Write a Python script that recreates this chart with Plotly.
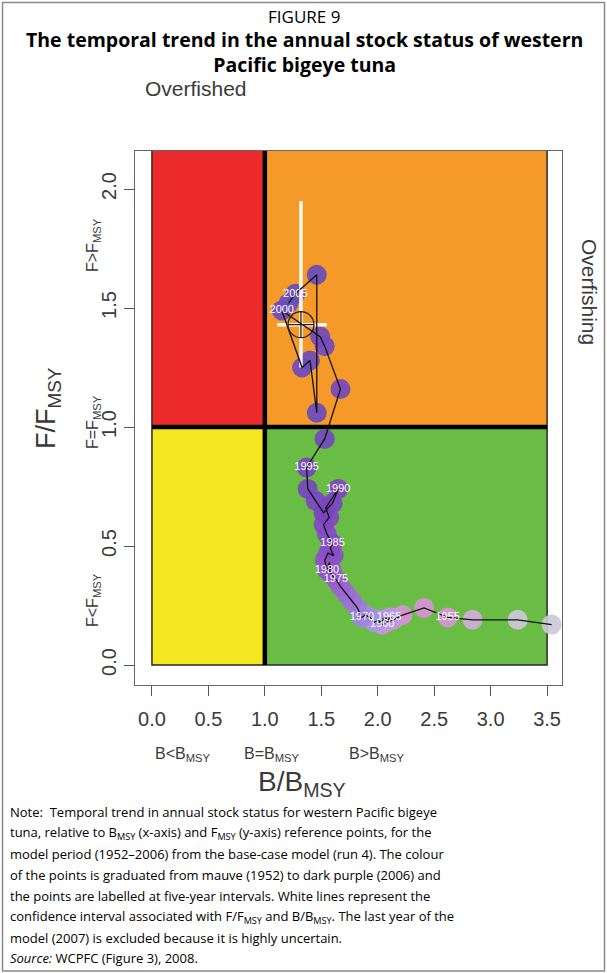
import plotly.graph_objects as go

W, H = 607, 973

# ---------------- data ----------------
years = list(range(1952, 2007))
b_bmsy = [3.54, 3.24, 2.84, 2.62, 2.41, 2.22, 2.14, 2.08, 2.04, 2.01,
          2.06, 2.12, 2.09, 2.10, 2.02, 1.97, 1.93, 1.89, 1.86, 1.82,
          1.77, 1.72, 1.67, 1.63, 1.59, 1.56, 1.59, 1.57, 1.55, 1.53,
          1.56, 1.61, 1.58, 1.60, 1.55, 1.52, 1.57, 1.54, 1.65, 1.60,
          1.52, 1.45, 1.38, 1.37, 1.53, 1.67, 1.53, 1.49, 1.15, 1.33,
          1.40, 1.46, 1.46, 1.27, 1.21]
f_fmsy = [0.17, 0.19, 0.19, 0.20, 0.24, 0.21, 0.19, 0.18, 0.17, 0.18,
          0.19, 0.20, 0.19, 0.20, 0.19, 0.18, 0.20, 0.21, 0.20, 0.24,
          0.27, 0.30, 0.33, 0.36, 0.38, 0.41, 0.40, 0.43, 0.40, 0.44,
          0.47, 0.46, 0.49, 0.51, 0.55, 0.59, 0.62, 0.66, 0.74, 0.68,
          0.64, 0.69, 0.74, 0.83, 0.95, 1.16, 1.34, 1.38, 1.49, 1.25,
          1.28, 1.06, 1.64, 1.56, 1.52]
label_years = [1955, 1960, 1965, 1970, 1975, 1980, 1985, 1990, 1995, 2000, 2005]

ci_center = (1.32, 1.43)
ci_b = (1.11, 1.55)
ci_f = (1.25, 1.95)

x_ticks = [0.0, 0.5, 1.0, 1.5, 2.0, 2.5, 3.0, 3.5]
y_ticks = [0.0, 0.5, 1.0, 1.5, 2.0]

# ---------------- helpers ----------------
def px(x):
    return x / W

def py(y):
    return 1 - y / H

RFONT = "Liberation Sans, Arial, sans-serif"
PFONT = "Open Sans, Noto Sans, sans-serif"
GREY = "#3a3a3a"

fig = go.Figure()

# points
fig.add_trace(go.Scatter(
    x=b_bmsy, y=f_fmsy, mode="markers",
    marker=dict(size=20, color=years, opacity=0.92,
                colorscale=[[0.0, "#cdc8d8"], [0.025, "#d0c4dc"], [0.05, "#d894d6"],
                            [0.1, "#d690d6"], [0.2, "#c49ae0"], [0.3, "#a294e6"],
                            [0.42, "#9a5ed0"], [0.7, "#7f44c2"], [1.0, "#634ebc"]],
                line=dict(width=0)),
    hoverinfo="skip", showlegend=False))

# CI lines (white)
fig.add_trace(go.Scatter(x=[ci_center[0], ci_center[0]], y=list(ci_f), mode="lines",
                         line=dict(color="white", width=3.5), opacity=0.92,
                         hoverinfo="skip", showlegend=False))
fig.add_trace(go.Scatter(x=list(ci_b), y=[ci_center[1], ci_center[1]], mode="lines",
                         line=dict(color="white", width=3.5), opacity=0.92,
                         hoverinfo="skip", showlegend=False))

# trajectory line
fig.add_trace(go.Scatter(x=b_bmsy, y=f_fmsy, mode="lines",
                         line=dict(color="#111111", width=1.3),
                         hoverinfo="skip", showlegend=False))

# year labels
lx = [b_bmsy[years.index(yv)] for yv in label_years]
ly = [f_fmsy[years.index(yv)] for yv in label_years]
fig.add_trace(go.Scatter(x=lx, y=ly, mode="text", text=[str(v) for v in label_years],
                         textfont=dict(color="white", size=11, family=RFONT),
                         hoverinfo="skip", showlegend=False))

# crosshair
fig.add_trace(go.Scatter(x=[ci_center[0]], y=[ci_center[1]], mode="markers",
                         marker=dict(symbol="circle-cross-open", size=26,
                                     color="#222222", line=dict(width=1.3, color="#222222")),
                         hoverinfo="skip", showlegend=False))

# quadrants
quads = [
    (0, 1, 1, 2.2, "#ee2b2b"),
    (1, 3.5, 1, 2.2, "#f59a29"),
    (0, 1, 0, 1, "#f4e61f"),
    (1, 3.5, 0, 1, "#69bd45"),
]
shapes = []
for x0, x1, y0, y1, c in quads:
    shapes.append(dict(type="rect", xref="x", yref="y", x0=x0, x1=x1, y0=y0, y1=y1,
                       fillcolor=c, line=dict(width=0), layer="below"))
shapes.append(dict(type="rect", xref="x", yref="y", x0=0, x1=3.5, y0=0, y1=2.2,
                   line=dict(color="#2a2a2a", width=1.5), layer="below"))
shapes.append(dict(type="line", xref="x", yref="y", x0=1, x1=1, y0=0, y1=2.2,
                   line=dict(color="black", width=4.5), layer="below"))
shapes.append(dict(type="line", xref="x", yref="y", x0=0, x1=3.5, y0=1, y1=1,
                   line=dict(color="black", width=4.5), layer="below"))
# outer figure border
shapes.append(dict(type="rect", xref="paper", yref="paper", x0=px(2.5), x1=px(604.5),
                   y0=py(971), y1=py(2.5), line=dict(color="#8a8a8a", width=1.5)))

ann = []

def add(text, x, y, size, family=PFONT, color="black", angle=0, xanchor="center", yanchor="middle"):
    ann.append(dict(text=text, x=px(x), y=py(y), xref="paper", yref="paper", showarrow=False,
                    font=dict(size=size, family=family, color=color), textangle=angle,
                    xanchor=xanchor, yanchor=yanchor))

add("FIGURE 9", 304, 16, 17)
add("<b>The temporal trend in the annual stock status of western</b><br>"
    "<b>Pacific bigeye tuna</b>", 304, 52, 19.5)

add("Overfished", 196, 88, 21, family=RFONT, color=GREY)
add("Overfishing", 590, 292, 21, family=RFONT, color=GREY, angle=90)

add("F/F<sub>MSY</sub>", 48, 408, 27, family=RFONT, color=GREY, angle=-90)
add("F>F<sub>MSY</sub>", 93, 245, 16, family=RFONT, color=GREY, angle=-90)
add("F=F<sub>MSY</sub>", 93, 422, 16, family=RFONT, color=GREY, angle=-90)
add("F<F<sub>MSY</sub>", 93, 600, 16, family=RFONT, color=GREY, angle=-90)

add("B<B<sub>MSY</sub>", 182, 754, 16, family=RFONT, color=GREY)
add("B=B<sub>MSY</sub>", 271, 754, 16, family=RFONT, color=GREY)
add("B>B<sub>MSY</sub>", 376, 754, 16, family=RFONT, color=GREY)
add("B/B<sub>MSY</sub>", 302, 783, 28, family=RFONT, color=GREY)

note_lines = [
    "Note:  Temporal trend in annual stock status for western Pacific bigeye",
    "tuna, relative to B<sub>MSY</sub> (x-axis) and F<sub>MSY</sub> (y-axis) reference points, for the",
    "model period (1952–2006) from the base-case model (run 4). The colour",
    "of the points is graduated from mauve (1952) to dark purple (2006) and",
    "the points are labelled at five-year intervals. White lines represent the",
    "confidence interval associated with F/F<sub>MSY</sub> and B/B<sub>MSY</sub>. The last year of the",
    "model (2007) is excluded because it is highly uncertain.",
    "<i>Source:</i> WCPFC (Figure 3), 2008.",
]
note_y = [812, 833, 854, 875, 896, 917, 938, 958]
for t, yv in zip(note_lines, note_y):
    add(t, 8, yv, 13, xanchor="left")

# plot frame in pixels
L, R, T, B = 135, 562, 151, 685
fig.update_layout(
    width=W, height=H, margin=dict(l=0, r=0, t=0, b=0),
    paper_bgcolor="white", plot_bgcolor="white",
    shapes=shapes, annotations=ann, showlegend=False,
    xaxis=dict(domain=[px(L), px(R)], range=[-0.15, 3.632], tickvals=x_ticks,
               tickformat=".1f", ticks="outside", ticklen=10, tickcolor="#555",
               showline=True, mirror=True, linecolor="#666", linewidth=1.2,
               showgrid=False, zeroline=False, ticklabelstandoff=6,
               tickfont=dict(size=20, family=RFONT, color=GREY), fixedrange=True),
    yaxis=dict(domain=[py(B), py(T)], range=[-0.084, 2.16], tickvals=y_ticks,
               tickformat=".1f", ticks="outside", ticklen=10, tickcolor="#555",
               showline=True, mirror=True, linecolor="#666", linewidth=1.2,
               showgrid=False, zeroline=False, tickangle=-90,
               tickfont=dict(size=20, family=RFONT, color=GREY), fixedrange=True),
)

fig.write_html("out.html")
